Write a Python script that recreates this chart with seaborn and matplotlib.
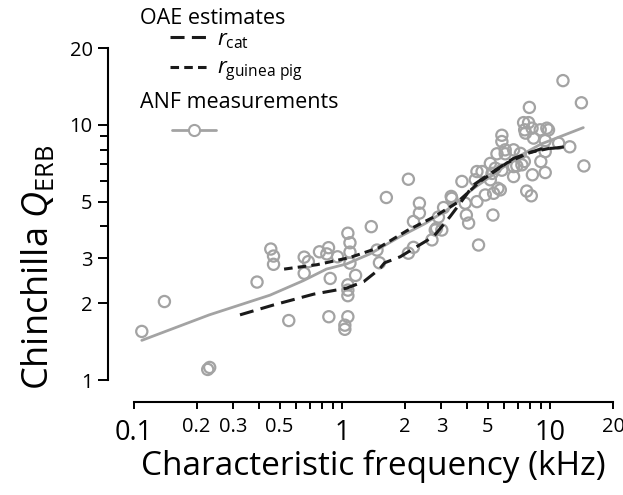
import numpy as np
import pandas as pd
import matplotlib
matplotlib.use("Agg")
import matplotlib.pyplot as plt
import seaborn as sns
from matplotlib.lines import Line2D
from matplotlib.ticker import FixedLocator, NullFormatter

# ---------------- data ----------------
anf_cf = [0.109, 0.14, 0.226, 0.231, 0.39, 0.454, 0.468, 0.468, 0.554, 0.657,
          0.688, 0.657, 0.778, 0.86, 0.844, 0.95, 0.876, 0.863, 1.065, 1.09,
          1.09, 1.09, 1.16, 1.065, 1.065, 1.065, 1.065, 1.03, 1.03, 1.38,
          1.47, 1.51, 1.63, 2.08, 2.35, 2.35, 2.2, 2.2, 2.08, 2.7,
          2.8, 3.01, 2.9, 3.07, 3.34, 3.36, 3.76, 3.9, 3.95, 4.05,
          4.52, 4.44, 4.7, 4.36, 4.44, 4.87, 5.34, 5.75, 5.3, 5.15,
          5.44, 5.54, 5.85, 5.85, 6.07, 5.85, 6.66, 5.25, 5.6, 6.9,
          7.3, 8.2, 9.45, 9.0, 7.7, 8.1, 9.45, 10.96, 11.5, 14.1,
          14.5, 12.4, 7.93, 7.44, 7.86, 7.53, 8.17, 8.94, 9.62, 9.8,
          7.6, 8.3, 9.45, 6.07, 6.66, 7.18, 7.5, 6.66, 5.15, 2.84]
anf_q = [1.55, 2.03, 1.10, 1.12, 2.42, 3.26, 3.06, 2.84, 1.71, 3.03,
         2.91, 2.62, 3.18, 3.30, 3.12, 3.04, 2.50, 1.77, 3.76, 3.45,
         3.17, 2.87, 2.57, 2.36, 2.25, 2.14, 1.77, 1.64, 1.58, 3.99,
         3.23, 2.88, 5.19, 6.12, 4.93, 4.51, 4.18, 3.31, 3.14, 3.54,
         3.87, 3.87, 4.35, 4.74, 5.24, 5.15, 6.0, 4.93, 4.43, 4.12,
         3.38, 6.56, 6.56, 6.09, 5.0, 5.31, 5.39, 5.56, 4.43, 6.09,
         6.76, 7.7, 9.1, 8.6, 7.7, 6.64, 6.27, 6.45, 5.64, 6.9,
         6.97, 6.37, 6.5, 7.18, 5.5, 5.27, 7.85, 8.47, 14.9, 12.2,
         6.9, 8.2, 11.7, 10.2, 10.2, 9.56, 9.7, 9.56, 9.7, 9.55,
         9.28, 8.87, 8.67, 7.98, 7.98, 7.73, 7.18, 6.86, 7.06, 3.93]

fit_cf = [0.109, 0.23, 0.45, 0.65, 0.84, 1.05, 1.36, 1.9, 2.5, 3.2, 4.3, 5.5, 6.7, 9.0, 14.4]
fit_q = [1.43, 1.8, 2.15, 2.45, 2.72, 2.85, 3.12, 3.65, 4.1, 4.65, 5.65, 6.5, 7.35, 8.4, 9.75]

cat_cf = [0.323, 0.47, 0.73, 1.05, 1.27, 1.51, 1.6, 1.9, 2.28, 2.75, 3.3, 3.69, 4.27, 5.15, 6.66, 8.94, 10.4, 11.7]
cat_q = [1.8, 1.97, 2.17, 2.29, 2.43, 2.72, 2.88, 3.04, 3.33, 3.65, 4.37, 4.93, 5.81, 6.45, 7.39, 8.03, 8.1, 8.2]

gp_cf = [0.526, 0.756, 1.09, 1.5, 2.05, 2.75, 3.56, 4.6, 6.2, 8.0, 10.0]
gp_q = [2.72, 2.83, 3.02, 3.3, 3.85, 4.35, 4.95, 6.0, 7.1, 7.8, 8.1]

x_major = [0.1, 0.2, 0.3, 0.5, 1, 2, 3, 5, 10, 20]
x_major_labels = ["0.1", "0.2", "0.3", "0.5", "1", "2", "3", "5", "10", "20"]
x_minor = [0.4, 0.6, 0.7, 0.8, 0.9, 4, 6, 7, 8, 9]
y_major = [1, 2, 3, 5, 10, 20]
y_major_labels = ["1", "2", "3", "5", "10", "20"]
y_minor = [4, 6, 7, 8, 9]

# ---------------- style ----------------
sns.set_style("ticks")
plt.rcParams["font.family"] = ["Open Sans", "DejaVu Sans"]
plt.rcParams["mathtext.fontset"] = "custom"
plt.rcParams["mathtext.rm"] = "Open Sans"
plt.rcParams["mathtext.it"] = "Open Sans:italic"
plt.rcParams["mathtext.bf"] = "Open Sans:bold"
plt.rcParams["text.color"] = "black"
plt.rcParams["axes.labelcolor"] = "black"
plt.rcParams["xtick.color"] = "black"
plt.rcParams["ytick.color"] = "black"

GRAY = "#a3a3a3"
BLACK = "#1a1a1a"
cat_dash = (4.6, 2.4)
gp_dash = (2.8, 1.7)

W, H = 623, 495
fig = plt.figure(figsize=(W / 100, H / 100), dpi=100)
ax = fig.add_axes([134 / W, 115 / H, 479 / W, 332 / H])

df_anf = pd.DataFrame({"cf": anf_cf, "q": anf_q})
df_fit = pd.DataFrame({"cf": fit_cf, "q": fit_q})
df_cat = pd.DataFrame({"cf": cat_cf, "q": cat_q})
df_gp = pd.DataFrame({"cf": gp_cf, "q": gp_q})

sns.lineplot(data=df_fit, x="cf", y="q", ax=ax, color=GRAY, lw=2.0,
             sort=False, estimator=None, zorder=2)
sns.scatterplot(data=df_anf, x="cf", y="q", ax=ax, marker="o", s=65,
                facecolor="none", edgecolor=GRAY, linewidth=1.6, zorder=3)
sns.lineplot(data=df_gp, x="cf", y="q", ax=ax, color=BLACK, lw=2.2,
             sort=False, estimator=None, zorder=4)
ax.lines[-1].set_dashes(gp_dash)
sns.lineplot(data=df_cat, x="cf", y="q", ax=ax, color=BLACK, lw=2.2,
             sort=False, estimator=None, zorder=4)
ax.lines[-1].set_dashes(cat_dash)

ax.set_xscale("log")
ax.set_yscale("log")
ax.set_xlim(0.1, 20)
ax.set_ylim(1, 20)

for s in ["top", "right"]:
    ax.spines[s].set_visible(False)
ax.spines["left"].set_position(("outward", 26 * 0.72))
ax.spines["bottom"].set_position(("outward", 22 * 0.72))
for s in ["left", "bottom"]:
    ax.spines[s].set_linewidth(1.5)
    ax.spines[s].set_color("black")

ax.xaxis.set_major_locator(FixedLocator(x_major))
ax.xaxis.set_minor_locator(FixedLocator(x_minor))
ax.set_xticklabels(x_major_labels)
ax.xaxis.set_minor_formatter(NullFormatter())
ax.yaxis.set_major_locator(FixedLocator(y_major))
ax.yaxis.set_minor_locator(FixedLocator(y_minor))
ax.set_yticklabels(y_major_labels)
ax.yaxis.set_minor_formatter(NullFormatter())

ax.tick_params(axis="x", which="major", length=5, width=1.4, color="black",
               labelsize=14.5, pad=6, labelcolor="black")
ax.tick_params(axis="x", which="minor", length=5, width=1.4, color="black")
ax.tick_params(axis="y", which="major", length=7, width=1.4, color="black",
               labelsize=14.5, pad=4, labelcolor="black")
ax.tick_params(axis="y", which="minor", length=5.5, width=1.4, color="black")

for t, lab in zip(ax.xaxis.get_major_ticks(), x_major_labels):
    if lab in ("0.1", "1", "10"):
        t.tick1line.set_markersize(9.5)
        t.label1.set_fontsize(19.5)
        t.set_pad(7)

ax.set_xlabel("Characteristic frequency (kHz)", fontsize=24, labelpad=2)
ax.set_ylabel(r"Chinchilla $Q_{\mathrm{ERB}}$", fontsize=26)
ax.yaxis.set_label_coords(-0.16, 0.34)

# ---------------- legend ----------------
fig.text(140 / W, 1 - 18 / H, "OAE estimates", fontsize=15.5, va="center", ha="left")
fig.text(140 / W, 1 - 103 / H, "ANF measurements", fontsize=15.5, va="center", ha="left")

h_cat = Line2D([], [], color=BLACK, lw=2.2, dashes=cat_dash)
h_gp = Line2D([], [], color=BLACK, lw=2.2, dashes=gp_dash)
leg1 = ax.legend(handles=[h_cat, h_gp],
                 labels=[r"$r_{\mathrm{cat}}$", r"$r_{\mathrm{guinea\ pig}}$"],
                 loc="upper left", bbox_to_anchor=(170 / W, 1 - 29 / H),
                 bbox_transform=fig.transFigure, frameon=False, fontsize=16,
                 handlelength=1.65, handletextpad=0.45, labelspacing=0.35,
                 borderpad=0, borderaxespad=0)
ax.add_artist(leg1)
h_anf = Line2D([], [], color=GRAY, lw=2.0, marker="o", mfc="white", mec=GRAY,
               ms=8, mew=1.5)
leg2 = ax.legend(handles=[h_anf], labels=[""], loc="center left",
                 bbox_to_anchor=(172 / W, 1 - 132 / H),
                 bbox_transform=fig.transFigure, frameon=False, fontsize=15,
                 handlelength=2.1, handletextpad=0, borderpad=0, borderaxespad=0)

fig.savefig("out.png", dpi=100)
